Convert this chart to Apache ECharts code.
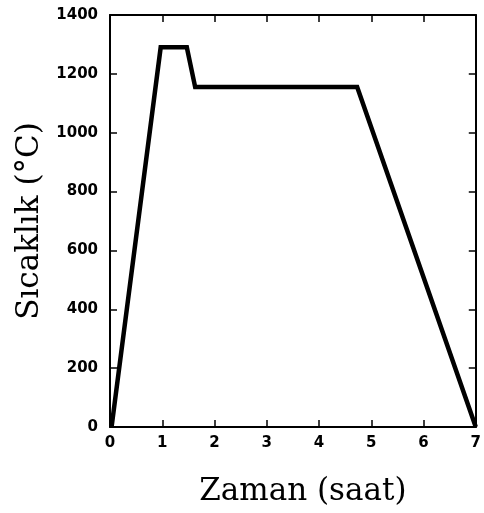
<!DOCTYPE html>
<html>
<head>
<meta charset="utf-8">
<script src="https://cdn.jsdelivr.net/npm/echarts@6/dist/echarts.min.js"></script>
<style>html,body{margin:0;padding:0;background:#fff;overflow:hidden;}#c{width:484px;height:513px;}</style>
</head>
<body>
<div id="c"></div>
<script>
const timeHours = [0.03, 0.97, 1.47, 1.63, 4.73, 7];
const temperatureC = [0, 1290, 1290, 1155, 1155, 0];
const xTicks = [0, 1, 2, 3, 4, 5, 6, 7];
const yTicks = [0, 200, 400, 600, 800, 1000, 1200, 1400];
const xTitle = 'Zaman (saat)';
const yTitle = 'Sıcaklık (°C)';

const data = timeHours.map((t, i) => [t, temperatureC[i]]);
const chart = echarts.init(document.getElementById('c'), null, {renderer: 'canvas', width: 484, height: 513});
const lineStyle = {color: '#000', width: 2};
const labelFont = {color: '#000', fontFamily: 'DejaVu Sans', fontWeight: 'bold', fontSize: 15};
chart.setOption({
  animation: false,
  backgroundColor: '#fff',
  grid: {left: 110, top: 15, width: 373, height: 412, containLabel: false},
  xAxis: [{
    type: 'value', min: xTicks[0], max: xTicks[xTicks.length - 1], interval: 1,
    position: 'bottom',
    axisLine: {show: true, onZero: false, lineStyle: lineStyle},
    axisTick: {show: true, inside: true, length: 7, lineStyle: {color: '#000', width: 1.5}},
    axisLabel: Object.assign({margin: 9, formatter: v => String(v)}, labelFont),
    splitLine: {show: false},
    name: xTitle, nameLocation: 'middle', nameGap: 49,
    nameTextStyle: {fontFamily: 'DejaVu Serif', fontSize: 31, color: '#000', padding: [0, 0, 0, 20]}
  }, {
    type: 'value', min: xTicks[0], max: xTicks[xTicks.length - 1], interval: 1,
    position: 'top',
    axisLine: {show: true, onZero: false, lineStyle: lineStyle},
    axisTick: {show: true, inside: true, length: 7, lineStyle: {color: '#000', width: 1.5}},
    axisLabel: {show: false}, splitLine: {show: false}
  }],
  yAxis: [{
    type: 'value', min: yTicks[0], max: yTicks[yTicks.length - 1], interval: 200,
    position: 'left',
    axisLine: {show: true, onZero: false, lineStyle: lineStyle},
    axisTick: {show: true, inside: true, length: 7, lineStyle: {color: '#000', width: 1.5}},
    axisLabel: Object.assign({margin: 12, formatter: v => String(v)}, labelFont),
    splitLine: {show: false},
    name: yTitle, nameLocation: 'middle', nameGap: 65,
    nameTextStyle: {fontFamily: 'DejaVu Serif', fontSize: 31, color: '#000'}
  }, {
    type: 'value', min: yTicks[0], max: yTicks[yTicks.length - 1], interval: 200,
    position: 'right',
    axisLine: {show: true, onZero: false, lineStyle: lineStyle},
    axisTick: {show: true, inside: true, length: 7, lineStyle: {color: '#000', width: 1.5}},
    axisLabel: {show: false}, splitLine: {show: false}
  }],
  series: [{
    type: 'line', data: data, xAxisIndex: 0, yAxisIndex: 0,
    showSymbol: false, symbol: 'none',
    lineStyle: {color: '#000', width: 4.5, join: 'miter'},
    clip: false
  }]
});
</script>
</body>
</html>
